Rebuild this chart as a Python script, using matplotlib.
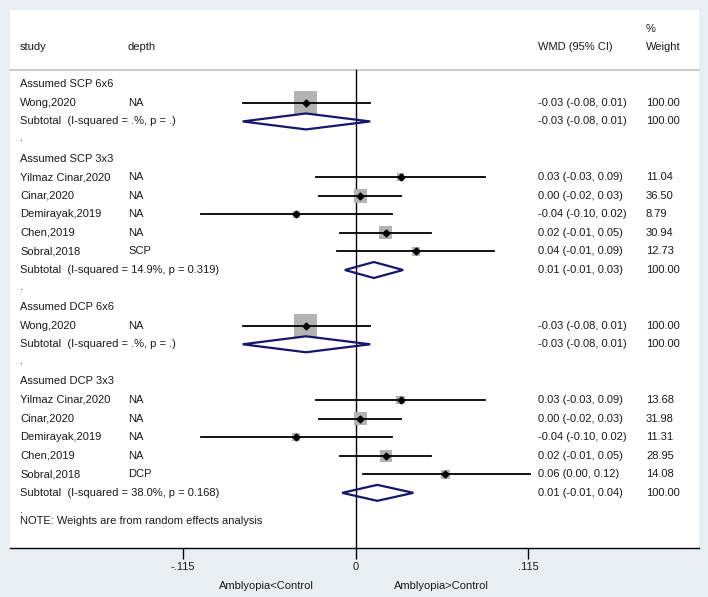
import matplotlib.pyplot as plt
import matplotlib.transforms as mtransforms
from matplotlib.patches import Polygon, Rectangle

plt.rcParams["font.family"] = ["Liberation Sans", "DejaVu Sans"]

BG = "#e8eff3"
TEXT = "#1a1a1a"
BOX_GRAY = "#b3b3b3"
NAVY = "#16166e"

GROUP_TITLES = ["Assumed SCP 6x6", "Assumed SCP 3x3", "Assumed DCP 6x6", "Assumed DCP 3x3"]
GROUP_SIZES = [1, 5, 1, 5]

STUDY = [
    "Wong,2020",
    "Yilmaz Cinar,2020", "Cinar,2020", "Demirayak,2019", "Chen,2019", "Sobral,2018",
    "Wong,2020",
    "Yilmaz Cinar,2020", "Cinar,2020", "Demirayak,2019", "Chen,2019", "Sobral,2018",
]
DEPTH = ["NA", "NA", "NA", "NA", "NA", "SCP", "NA", "NA", "NA", "NA", "NA", "DCP"]
WMD = [-0.033, 0.030, 0.0033, -0.0394, 0.0202, 0.0403, -0.033, 0.030, 0.0033, -0.0394, 0.0202, 0.0598]
CI_LO = [-0.0751, -0.026, -0.024, -0.1026, -0.0102, -0.012, -0.0751, -0.026, -0.024, -0.1026, -0.0102, 0.0048]
CI_HI = [0.0098, 0.086, 0.0306, 0.024, 0.0503, 0.092, 0.0098, 0.086, 0.0306, 0.024, 0.0503, 0.116]
WEIGHT = [100.00, 11.04, 36.50, 8.79, 30.94, 12.73, 100.00, 13.68, 31.98, 11.31, 28.95, 14.08]

SUB_WMD = [-0.033, 0.0122, -0.033, 0.0145]
SUB_LO = [-0.0751, -0.0071, -0.0751, -0.0089]
SUB_HI = [0.0098, 0.0317, 0.0098, 0.0385]
SUB_I2 = [".%", "14.9%", ".%", "38.0%"]
SUB_P = [".", "0.319", ".", "0.168"]

XTICKS = [-0.115, 0, 0.115]
XTICK_LABELS = ["-.115", "0", ".115"]

# pixel geometry of the reference (708 x 597)
W, H = 708, 597
PANEL = (10, 699, 10, 548)  # left, right, top, bottom
ZERO_PX, PX_PER_UNIT = 355.5, 1502.6
ROW0_PX, ROW_PX = 84.3, 18.57


def fmt(v):
    return f"{v:.2f}"


def col(px):
    return (px - PANEL[0]) / (PANEL[1] - PANEL[0])


fig = plt.figure(figsize=(W / 100, H / 100), dpi=100)
fig.patch.set_facecolor(BG)
ax = fig.add_axes([PANEL[0] / W, 1 - PANEL[3] / H, (PANEL[1] - PANEL[0]) / W, (PANEL[3] - PANEL[2]) / H])
ax.set_facecolor("white")
ax.set_xlim((PANEL[0] - ZERO_PX) / PX_PER_UNIT, (PANEL[1] - ZERO_PX) / PX_PER_UNIT)
ax.set_ylim((PANEL[3] - ROW0_PX) / ROW_PX, (PANEL[2] - ROW0_PX) / ROW_PX)

for side in ["top", "left", "right"]:
    ax.spines[side].set_visible(False)
ax.spines["bottom"].set_linewidth(1.0)
ax.set_yticks([])
ax.set_xticks(XTICKS)
ax.set_xticklabels(XTICK_LABELS, fontsize=8, color=TEXT)
ax.tick_params(axis="x", direction="out", length=8, width=1.0, pad=2)

tr = mtransforms.blended_transform_factory(ax.transAxes, ax.transData)
unit_x = 1 / PX_PER_UNIT
unit_y = 1 / ROW_PX
kw = dict(fontsize=8, color=TEXT, va="center", ha="left", transform=tr)

# header
ax.text(col(20), -2.01, "study", **kw)
ax.text(col(128), -2.01, "depth", **kw)
ax.text(col(538), -2.01, "WMD (95% CI)", **kw)
ax.text(col(646), -2.01, "Weight", **kw)
ax.text(col(646), -2.98, "%", **kw)
ax.plot([0, 1], [-0.77, -0.77], transform=tr, color="#c4c4c4", lw=1.2, clip_on=False)
ax.plot([0, 0], [-0.77, ax.get_ylim()[0]], color="black", lw=1.0)

row = 0
k = 0
for g, title in enumerate(GROUP_TITLES):
    ax.text(col(20), row, title, **kw)
    row += 1
    for _ in range(GROUP_SIZES[g]):
        ax.text(col(20), row, STUDY[k], **kw)
        ax.text(col(128), row, DEPTH[k], **kw)
        ax.text(col(538), row, f"{fmt(WMD[k])} ({fmt(CI_LO[k])}, {fmt(CI_HI[k])})", **kw)
        ax.text(col(646), row, fmt(WEIGHT[k]), **kw)
        # box area proportional to weight
        side = 23 * (WEIGHT[k] / 100) ** 0.5
        ax.add_patch(Rectangle((WMD[k] - side / 2 * unit_x, row - side / 2 * unit_y),
                               side * unit_x, side * unit_y, facecolor=BOX_GRAY, edgecolor="none", zorder=2))
        ax.plot([CI_LO[k], CI_HI[k]], [row, row], color="black", lw=1.3, zorder=3)
        ax.plot(WMD[k], row, marker="D", ms=3.5, color="black", zorder=4)
        row += 1
        k += 1
    ax.text(col(20), row, f"Subtotal  (I-squared = {SUB_I2[g]}, p = {SUB_P[g]})", **kw)
    ax.text(col(538), row, f"{fmt(SUB_WMD[g])} ({fmt(SUB_LO[g])}, {fmt(SUB_HI[g])})", **kw)
    ax.text(col(646), row, fmt(100), **kw)
    half = 0.43
    ax.add_patch(Polygon([(SUB_LO[g], row), (SUB_WMD[g], row - half), (SUB_HI[g], row), (SUB_WMD[g], row + half)],
                         closed=True, facecolor="none", edgecolor=NAVY, lw=1.6, zorder=3))
    row += 1
    ax.text(col(20), row - 0.1, ".", **kw)
    row += 1

ax.text(col(20), 23.5, "NOTE: Weights are from random effects analysis", **kw)

fig.text(266 / W, 1 - 586 / H, "Amblyopia<Control", fontsize=8, color=TEXT, ha="center", va="center")
fig.text(441 / W, 1 - 586 / H, "Amblyopia>Control", fontsize=8, color=TEXT, ha="center", va="center")

fig.savefig("out.png", dpi=100, facecolor=BG)
